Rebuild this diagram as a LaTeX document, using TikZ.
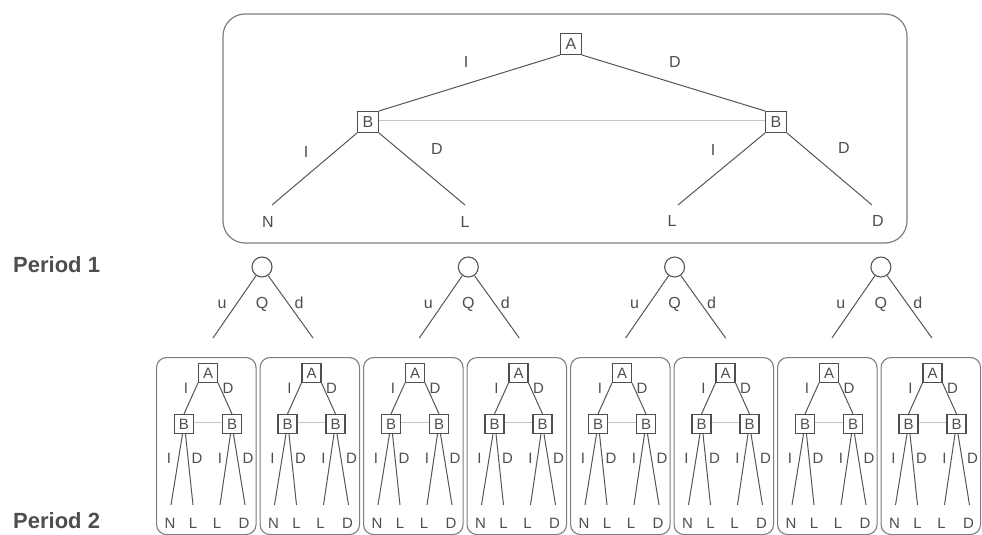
\documentclass[tikz,border=0pt]{standalone}
\usepackage{fontspec}
\setmainfont{Liberation Sans}
\definecolor{ink}{HTML}{4E4E4E}
\definecolor{edgec}{HTML}{555555}
\definecolor{framec}{HTML}{7E7E7E}
\definecolor{faint}{HTML}{C6C6C6}
\begin{document}
\begin{tikzpicture}[x=1pt,y=-1pt,
  every node/.style={text=ink},
  mainbox/.style={draw=framec, line width=1.2pt, rounded corners=22pt, inner sep=0pt},
  subbox/.style={draw=framec, line width=1.1pt, rounded corners=10pt, inner sep=0pt},
  bigplayer/.style={draw=ink, line width=1.1pt, minimum size=21pt, inner sep=0pt, font=\fontsize{16}{16}\selectfont},
  smallplayer/.style={draw=ink, line width=1.1pt, minimum size=19pt, inner sep=0pt, font=\fontsize{15}{15}\selectfont},
  biglabel/.style={font=\fontsize{16}{16}\selectfont, inner sep=0pt},
  smalllabel/.style={font=\fontsize{15}{15}\selectfont, inner sep=0pt},
  chance/.style={circle, draw=edgec, line width=1.1pt, minimum size=20pt, inner sep=0pt},
  branch/.style={draw=edgec, line width=1pt},
  infoset/.style={draw=faint, line width=1pt},
  period/.style={font=\bfseries\fontsize{22}{22}\selectfont, anchor=west, inner sep=0pt},
]
\useasboundingbox (0,0) rectangle (982,535);

% ---------- Period 1 stage game ----------
\node[mainbox, minimum width=684pt, minimum height=229pt] (stage) at (565,128.5) {};
\node[bigplayer] (A) at (571,44) {A};
\node[bigplayer] (BL) at (368,122) {B};
\node[bigplayer] (BR) at (776,122) {B};
\draw[infoset] ([yshift=2pt]BL.east) -- ([yshift=2pt]BR.west);
\draw[branch] (A.south west) -- (BL.north east);
\draw[branch] (A.south east) -- (BR.north west);
\coordinate (e1) at (272,205);
\coordinate (e2) at (465,205);
\coordinate (e3) at (678,205);
\coordinate (e4) at (872,205);
\draw[branch] (BL.south west) -- (e1);
\draw[branch] (BL.south east) -- (e2);
\draw[branch] (BR.south west) -- (e3);
\draw[branch] (BR.south east) -- (e4);
\node[biglabel] (la1) at (466,62) {I};
\node[biglabel] (la2) at (675,62) {D};
\node[biglabel] (lb1) at (306,152) {I};
\node[biglabel] (lb2) at (437,149) {D};
\node[biglabel] (lb3) at (713,150) {I};
\node[biglabel] (lb4) at (844,148) {D};
\node[biglabel] (o1) at (268,222) {N};
\node[biglabel] (o2) at (465,222) {L};
\node[biglabel] (o3) at (672,221) {L};
\node[biglabel] (o4) at (878,221) {D};

% ---------- period labels ----------
\node[period] (p1) at (13,265) {Period 1};
\node[period] (p2) at (13,521) {Period 2};

% ---------- chance nodes ----------
\foreach \k in {0,...,3} {
  \pgfmathsetmacro{\Q}{262+206.3*\k}
  \node[chance] (q\k) at (\Q,267) {};
  \coordinate (qu\k) at (\Q-49,338);
  \coordinate (qd\k) at (\Q+51,338);
  \draw[branch] (q\k) -- (qu\k);
  \draw[branch] (q\k) -- (qd\k);
  \node[biglabel, anchor=base] (u\k) at (\Q-40,308) {u};
  \node[biglabel, anchor=base] (Qn\k) at (\Q,308) {Q};
  \node[biglabel, anchor=base] (d\k) at (\Q+37,308) {d};
}

% ---------- Period 2 stage games ----------
\foreach \i in {0,...,7} {
  \pgfmathsetmacro{\L}{156+103.5*\i}
  \node[subbox, minimum width=99.5pt, minimum height=177pt, anchor=north west] (box\i) at (\L,357) {};
  \node[smallplayer] (a\i) at (\L+52,373) {A};
  \node[smallplayer] (bl\i) at (\L+28,424) {B};
  \node[smallplayer] (br\i) at (\L+76,424) {B};
  \draw[infoset] ([yshift=2pt]bl\i.east) -- ([yshift=2pt]br\i.west);
  \draw[branch] (a\i.south west) -- (bl\i.north);
  \draw[branch] (a\i.south east) -- (br\i.north);
  \coordinate (f1\i) at (\L+15,505);
  \coordinate (f2\i) at (\L+37,505);
  \coordinate (f3\i) at (\L+64,505);
  \coordinate (f4\i) at (\L+89,505);
  \draw[branch] ([xshift=-1.5pt]bl\i.south) -- (f1\i);
  \draw[branch] ([xshift=1.5pt]bl\i.south) -- (f2\i);
  \draw[branch] ([xshift=-1.5pt]br\i.south) -- (f3\i);
  \draw[branch] ([xshift=1.5pt]br\i.south) -- (f4\i);
  \node[smalllabel] (s1\i) at (\L+30,388) {I};
  \node[smalllabel] (s2\i) at (\L+72,388) {D};
  \node[smalllabel] (t1\i) at (\L+13,458) {I};
  \node[smalllabel] (t2\i) at (\L+41,458) {D};
  \node[smalllabel] (t3\i) at (\L+64,458) {I};
  \node[smalllabel] (t4\i) at (\L+92,458) {D};
  \node[smalllabel] (n1\i) at (\L+14,523) {N};
  \node[smalllabel] (n2\i) at (\L+37,523) {L};
  \node[smalllabel] (n3\i) at (\L+61,523) {L};
  \node[smalllabel] (n4\i) at (\L+88,523) {D};
}
\end{tikzpicture}
\end{document}
